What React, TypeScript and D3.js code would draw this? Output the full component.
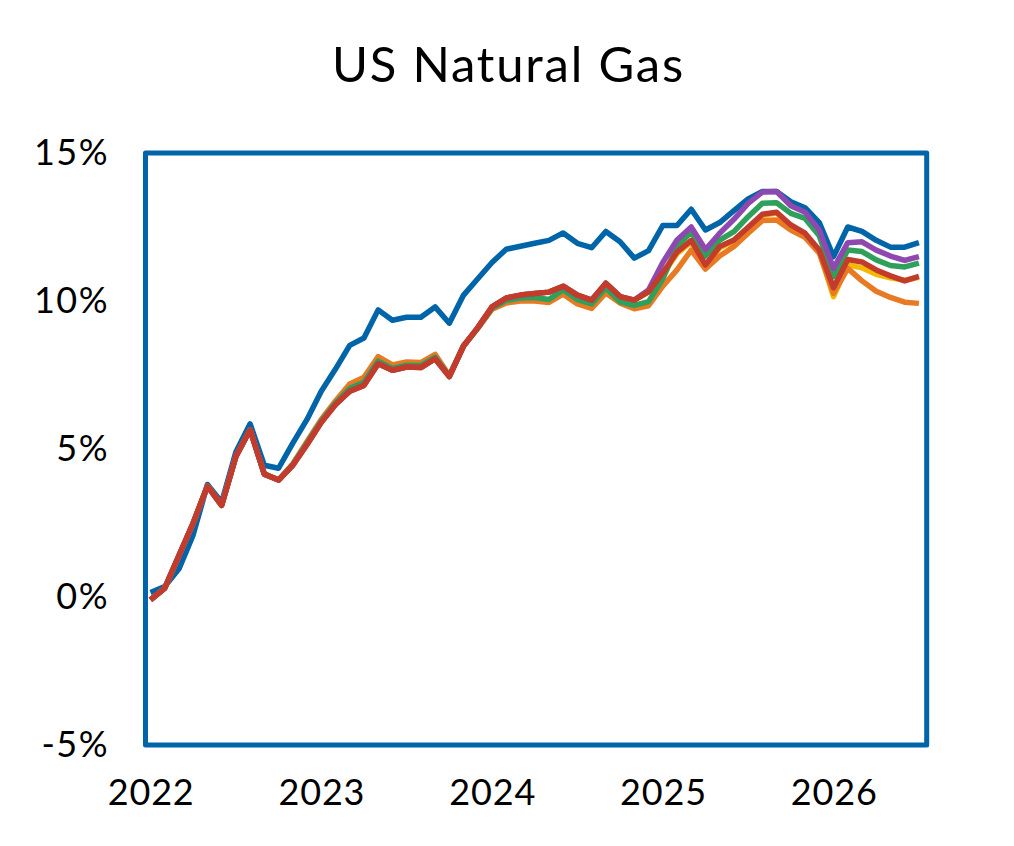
import React from "react";
import * as d3 from "d3";

const title = "US Natural Gas";
const yearLabels = ["2022", "2023", "2024", "2025", "2026"];
const yearTickIndex = [0, 12, 24, 36, 48];
const yTicks = [-5, 0, 5, 10, 15];

const blue = [0.15, 0.35, 0.95, 2.1, 3.8, 3.2, 4.9, 5.85, 4.45, 4.35, 5.2, 6.0,
  6.95, 7.7, 8.5, 8.75, 9.7, 9.35, 9.45, 9.45, 9.8, 9.25, 10.2, 10.75,
  11.3, 11.75, 11.85, 11.95, 12.05, 12.3, 11.95, 11.8, 12.35, 12.0, 11.45, 11.7,
  12.55, 12.55, 13.1, 12.4, 12.65, 13.05, 13.45, 13.7, 13.7, 13.35, 13.15, 12.65,
  11.5, 12.5, 12.35, 12.05, 11.82, 11.82, 11.97];

const red = [-0.1, 0.3, 1.4, 2.5, 3.75, 3.1, 4.75, 5.65, 4.15, 3.95, 4.45, 5.15,
  5.9, 6.5, 6.95, 7.15, 7.88, 7.66, 7.77, 7.75, 8.05, 7.45, 8.48, 9.1,
  9.8, 10.1, 10.2, 10.25, 10.3, 10.5, 10.2, 10.03, 10.6, 10.15, 10.03, 10.31,
  10.95, 11.65, 12.05, 11.22, 11.84, 12.06, 12.49, 12.93, 13.0, 12.57, 12.29, 11.72,
  10.45, 11.4, 11.32, 11.05, 10.85, 10.68, 10.83];

const orange = [-0.1, 0.3, 1.4, 2.5, 3.75, 3.1, 4.75, 5.65, 4.15, 3.95, 4.5, 5.25,
  6.0, 6.62, 7.2, 7.42, 8.12, 7.84, 7.94, 7.92, 8.2, 7.48, 8.5, 9.08,
  9.72, 9.93, 10.0, 10.0, 9.95, 10.23, 9.9, 9.75, 10.27, 9.93, 9.74, 9.84,
  10.5, 11.05, 11.72, 11.08, 11.52, 11.84, 12.29, 12.72, 12.74, 12.4, 12.15, 11.62,
  10.26, 11.1, 10.68, 10.33, 10.12, 9.96, 9.92];

const green = [-0.1, 0.3, 1.4, 2.5, 3.75, 3.1, 4.75, 5.65, 4.15, 3.95, 4.47, 5.2,
  5.95, 6.55, 7.05, 7.25, 7.97, 7.72, 7.83, 7.82, 8.1, 7.46, 8.48, 9.08,
  9.76, 10.02, 10.1, 10.12, 10.05, 10.38, 10.05, 9.9, 10.45, 9.97, 9.85, 9.98,
  10.75, 11.84, 12.34, 11.52, 12.06, 12.34, 12.85, 13.3, 13.32, 12.96, 12.79, 12.2,
  10.82, 11.72, 11.67, 11.39, 11.2, 11.15, 11.28];

const purple = [-0.1, 0.3, 1.4, 2.5, 3.75, 3.1, 4.75, 5.65, 4.15, 3.95, 4.45, 5.15,
  5.9, 6.5, 6.95, 7.15, 7.88, 7.66, 7.77, 7.75, 8.05, 7.45, 8.48, 9.1,
  9.8, 10.1, 10.2, 10.25, 10.3, 10.5, 10.2, 10.03, 10.6, 10.15, 10.03, 10.37,
  11.3, 12.06, 12.5, 11.74, 12.29, 12.76, 13.3, 13.68, 13.7, 13.22, 13.0, 12.4,
  11.1, 11.97, 12.0, 11.72, 11.52, 11.37, 11.5];

const yellow = [-0.1, 0.3, 1.4, 2.5, 3.75, 3.1, 4.75, 5.65, 4.15, 3.95, 4.45, 5.15,
  5.9, 6.5, 6.95, 7.15, 7.88, 7.66, 7.77, 7.75, 8.05, 7.45, 8.48, 9.1,
  9.8, 10.1, 10.2, 10.25, 10.3, 10.5, 10.2, 10.03, 10.6, 10.15, 10.03, 10.31,
  10.9, 11.6, 12.0, 11.18, 11.8, 12.02, 12.45, 12.9, 12.97, 12.53, 12.25, 11.68,
  10.15, 11.22, 11.12, 10.9, 10.78, 10.7, 10.8];

const seriesOrder = [
  { name: "blue", values: blue, color: "#0064A8" },
  { name: "yellow", values: yellow, color: "#F5B800" },
  { name: "orange", values: orange, color: "#E97A24" },
  { name: "green", values: green, color: "#2FA05A" },
  { name: "purple", values: purple, color: "#8E48B0" },
  { name: "red", values: red, color: "#C23B2B" },
];

const W = 1014;
const H = 846;
const frame = { left: 145.5, right: 926.7, top: 153, bottom: 745 };
const FONT = "Lato, 'Noto Sans', sans-serif";

export default function App() {
  const x = d3.scaleLinear().domain([0, 54]).range([150.5, 918.9]);
  const y = d3.scaleLinear().domain([-5, 15]).range([frame.bottom, frame.top]);
  const line = d3
    .line<number>()
    .x((_, i) => x(i))
    .y((d) => y(d));

  return (
    <svg
      width={W}
      height={H}
      style={{ position: "absolute", left: 0, top: 0, background: "#fff" }}
    >
      <text
        x={508.5}
        y={81.5}
        textAnchor="middle"
        fontFamily={FONT}
        fontSize={49}
        letterSpacing={1.8}
        fill="#000"
      >
        {title}
      </text>
      {yTicks.map((t) => (
        <text
          key={t}
          x={109}
          y={y(t) + 12}
          textAnchor="end"
          fontFamily={FONT}
          fontSize={36}
          letterSpacing={1.5}
          fill="#000"
        >
          {`${t}%`}
        </text>
      ))}
      {yearLabels.map((lab, k) => (
        <text
          key={lab}
          x={x(yearTickIndex[k]) + 0.7}
          y={805}
          textAnchor="middle"
          fontFamily={FONT}
          fontSize={36}
          letterSpacing={0.8}
          fill="#000"
        >
          {lab}
        </text>
      ))}
      {seriesOrder.map((s) => (
        <path
          key={s.name}
          d={line(s.values) || ""}
          fill="none"
          stroke={s.color}
          strokeWidth={5.5}
          strokeLinejoin="round"
          strokeLinecap="butt"
        />
      ))}
      <rect
        x={frame.left}
        y={frame.top}
        width={frame.right - frame.left}
        height={frame.bottom - frame.top}
        fill="none"
        stroke="#0064A8"
        strokeWidth={5}
        strokeLinejoin="round"
      />
    </svg>
  );
}
